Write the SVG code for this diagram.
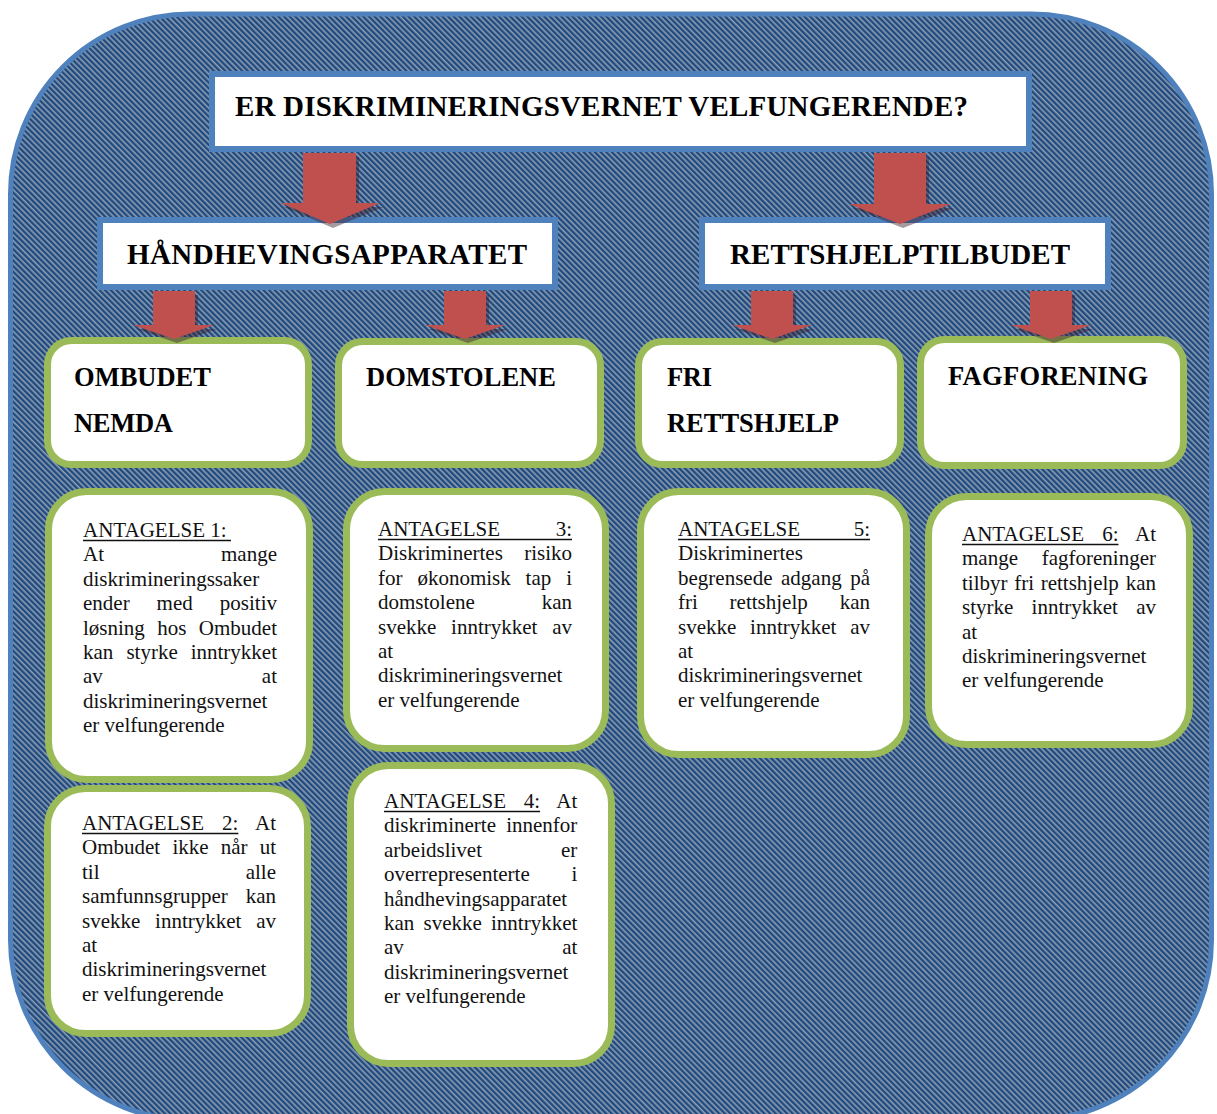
<svg xmlns="http://www.w3.org/2000/svg" width="1217" height="1114" viewBox="0 0 1217 1114">
<defs>
<pattern id="stripes" width="8" height="4" patternUnits="userSpaceOnUse" patternTransform="rotate(45)">
<rect width="8" height="4" fill="#1f4a7e"/>
<rect y="0" width="8" height="1.6" fill="#8e9db3"/>
</pattern>
<style>
.blue{fill:#fff;stroke:#4f81bd;stroke-width:6}
.green{fill:#fff;stroke:#9bbb59;stroke-width:7}
.h{font-family:"Liberation Serif","Times New Roman",serif;font-weight:bold;fill:#000}
.t{font-family:"Liberation Serif","Times New Roman",serif;font-size:21px;fill:#111}
.e{text-anchor:end}
.ul{stroke:#111;stroke-width:1.3}
.arrow{fill:#c0504d}
.shadow{fill:#3a1f2e;opacity:0.45}
</style>
</defs>
<rect x="10.5" y="14" width="1201" height="1106" rx="180" ry="180" fill="url(#stripes)" stroke="#4f81bd" stroke-width="5"/>

<g id="title">
<rect class="blue" x="212" y="74" width="817" height="75"/>
<text class="h" x="235" y="116" font-size="29" textLength="733">ER DISKRIMINERINGSVERNET VELFUNGERENDE?</text>
</g>
<g id="handhevingsapparatet">
<rect class="blue" x="100" y="220" width="455" height="67"/>
<text class="h" x="127" y="264" font-size="29" textLength="400">HÅNDHEVINGSAPPARATET</text>
</g>
<g id="rettshjelptilbudet">
<rect class="blue" x="702" y="220" width="406" height="67"/>
<text class="h" x="730" y="264" font-size="29" textLength="340">RETTSHJELPTILBUDET</text>
</g>

<g id="ombudet">
<rect class="green" x="47.5" y="340.5" width="261" height="124" rx="24"/>
<text class="h" x="74" y="386" font-size="26.5" textLength="137">OMBUDET</text>
<text class="h" x="74" y="432" font-size="26.5" textLength="99">NEMDA</text>
</g>
<g id="domstolene">
<rect class="green" x="338.5" y="341.5" width="262" height="123" rx="24"/>
<text class="h" x="366" y="386" font-size="26.5" textLength="190">DOMSTOLENE</text>
</g>
<g id="frirettshjelp">
<rect class="green" x="638.5" y="341.5" width="262" height="123" rx="24"/>
<text class="h" x="667" y="386" font-size="26.5" textLength="45">FRI</text>
<text class="h" x="667" y="432" font-size="26.5" textLength="172">RETTSHJELP</text>
</g>
<g id="fagforening">
<rect class="green" x="920.5" y="339.5" width="263" height="126" rx="24"/>
<text class="h" x="948" y="385" font-size="26.5" textLength="200">FAGFORENING</text>
</g>

<g id="antagelse1">
<rect class="green" x="48.5" y="491.5" width="261" height="288" rx="38"/>
<text class="t" x="83" y="537">ANTAGELSE 1:</text>
<line class="ul" x1="83" y1="540.5" x2="231" y2="540.5"/>
<text class="t" x="83" y="561.4">At</text><text class="t e" x="277" y="561.4">mange</text>
<text class="t" x="83" y="585.8">diskrimineringssaker</text>
<text class="t" x="83" y="610.2">ender</text><text class="t" x="156.6" y="610.2">med</text><text class="t e" x="277" y="610.2">positiv</text>
<text class="t" x="83" y="634.6">løsning</text><text class="t" x="157.2" y="634.6">hos</text><text class="t e" x="277" y="634.6">Ombudet</text>
<text class="t" x="83" y="659">kan</text><text class="t" x="126.4" y="659">styrke</text><text class="t e" x="277" y="659">inntrykket</text>
<text class="t" x="83" y="683.4">av</text><text class="t e" x="277" y="683.4">at</text>
<text class="t" x="83" y="707.8">diskrimineringsvernet</text>
<text class="t" x="83" y="732.2">er velfungerende</text>
</g>

<g id="antagelse2">
<rect class="green" x="47.5" y="788.5" width="260" height="245" rx="38"/>
<text class="t" x="82" y="830">ANTAGELSE</text><text class="t" x="222.1" y="830">2:</text><text class="t e" x="276" y="830">At</text>
<line class="ul" x1="82" y1="833.5" x2="238.4" y2="833.5"/>
<text class="t" x="82" y="854.4">Ombudet</text><text class="t" x="172.4" y="854.4">ikke</text><text class="t" x="220.7" y="854.4">når</text><text class="t e" x="276" y="854.4">ut</text>
<text class="t" x="82" y="878.8">til</text><text class="t e" x="276" y="878.8">alle</text>
<text class="t" x="82" y="903.2">samfunnsgrupper</text><text class="t e" x="276" y="903.2">kan</text>
<text class="t" x="82" y="927.6">svekke</text><text class="t" x="155.1" y="927.6">inntrykket</text><text class="t e" x="276" y="927.6">av</text>
<text class="t" x="82" y="952">at</text>
<text class="t" x="82" y="976.4">diskrimineringsvernet</text>
<text class="t" x="82" y="1000.8">er velfungerende</text>
</g>

<g id="antagelse3">
<rect class="green" x="346.5" y="491.5" width="259" height="257" rx="38"/>
<text class="t" x="378" y="536">ANTAGELSE</text><text class="t e" x="572" y="536">3:</text>
<line class="ul" x1="378" y1="539.5" x2="572" y2="539.5"/>
<text class="t" x="378" y="560.4">Diskriminertes</text><text class="t e" x="572" y="560.4">risiko</text>
<text class="t" x="378" y="584.8">for</text><text class="t" x="417.4" y="584.8">økonomisk</text><text class="t" x="525.6" y="584.8">tap</text><text class="t e" x="572" y="584.8">i</text>
<text class="t" x="378" y="609.2">domstolene</text><text class="t e" x="572" y="609.2">kan</text>
<text class="t" x="378" y="633.6">svekke</text><text class="t" x="451.1" y="633.6">inntrykket</text><text class="t e" x="572" y="633.6">av</text>
<text class="t" x="378" y="658">at</text>
<text class="t" x="378" y="682.4">diskrimineringsvernet</text>
<text class="t" x="378" y="706.8">er velfungerende</text>
</g>

<g id="antagelse4">
<rect class="green" x="350.5" y="765.5" width="261" height="298" rx="38"/>
<text class="t" x="384" y="808">ANTAGELSE</text><text class="t" x="523.8" y="808">4:</text><text class="t e" x="577.3" y="808">At</text>
<line class="ul" x1="384" y1="811.5" x2="540.1" y2="811.5"/>
<text class="t" x="384" y="832.4">diskriminerte</text><text class="t e" x="577.3" y="832.4">innenfor</text>
<text class="t" x="384" y="856.8">arbeidslivet</text><text class="t e" x="577.3" y="856.8">er</text>
<text class="t" x="384" y="881.2">overrepresenterte</text><text class="t e" x="577.3" y="881.2">i</text>
<text class="t" x="384" y="905.6">håndhevingsapparatet</text>
<text class="t" x="384" y="930">kan</text><text class="t" x="423.5" y="930">svekke</text><text class="t e" x="577.3" y="930">inntrykket</text>
<text class="t" x="384" y="954.4">av</text><text class="t e" x="577.3" y="954.4">at</text>
<text class="t" x="384" y="978.8">diskrimineringsvernet</text>
<text class="t" x="384" y="1003.2">er velfungerende</text>
</g>

<g id="antagelse5">
<rect class="green" x="640.5" y="491.5" width="266" height="263" rx="38"/>
<text class="t" x="678" y="536">ANTAGELSE</text><text class="t e" x="870" y="536">5:</text>
<line class="ul" x1="678" y1="539.5" x2="870" y2="539.5"/>
<text class="t" x="678" y="560.4">Diskriminertes</text>
<text class="t" x="678" y="584.8">begrensede</text><text class="t" x="781" y="584.8">adgang</text><text class="t e" x="870" y="584.8">på</text>
<text class="t" x="678" y="609.2">fri</text><text class="t" x="729.6" y="609.2">rettshjelp</text><text class="t e" x="870" y="609.2">kan</text>
<text class="t" x="678" y="633.6">svekke</text><text class="t" x="750.1" y="633.6">inntrykket</text><text class="t e" x="870" y="633.6">av</text>
<text class="t" x="678" y="658">at</text>
<text class="t" x="678" y="682.4">diskrimineringsvernet</text>
<text class="t" x="678" y="706.8">er velfungerende</text>
</g>

<g id="antagelse6">
<rect class="green" x="928.5" y="496.5" width="261" height="248" rx="38"/>
<text class="t" x="962" y="541">ANTAGELSE</text><text class="t" x="1102.2" y="541">6:</text><text class="t e" x="1156" y="541">At</text>
<line class="ul" x1="962" y1="544.5" x2="1118.5" y2="544.5"/>
<text class="t" x="962" y="565.4">mange</text><text class="t e" x="1156" y="565.4">fagforeninger</text>
<text class="t" x="962" y="589.8">tilbyr</text><text class="t" x="1014.2" y="589.8">fri</text><text class="t" x="1040.7" y="589.8">rettshjelp</text><text class="t e" x="1156" y="589.8">kan</text>
<text class="t" x="962" y="614.2">styrke</text><text class="t" x="1031.6" y="614.2">inntrykket</text><text class="t e" x="1156" y="614.2">av</text>
<text class="t" x="962" y="638.6">at</text>
<text class="t" x="962" y="663">diskrimineringsvernet</text>
<text class="t" x="962" y="687.4">er velfungerende</text>
</g>

<g id="connectors">
<g transform="translate(3,4)">
<polygon class="shadow" points="303,153 356,153 356,203 380,203 330,224 281,203 303,203"/>
<polygon class="shadow" points="874,153 926,153 926,204 951,204 900,224 849,204 874,204"/>
<polygon class="shadow" points="153,291 195,291 195,325 214,325 174,339 133,325 153,325"/>
<polygon class="shadow" points="444,291 486,291 486,325 505,325 465,339 425,325 444,325"/>
<polygon class="shadow" points="751,291 793,291 793,325 812,325 772,339 732,325 751,325"/>
<polygon class="shadow" points="1030,291 1072,291 1072,325 1091,325 1051,339 1011,325 1030,325"/>
</g>
<polygon class="arrow" points="303,153 356,153 356,203 380,203 330,224 281,203 303,203"/>
<polygon class="arrow" points="874,153 926,153 926,204 951,204 900,224 849,204 874,204"/>
<polygon class="arrow" points="153,291 195,291 195,325 214,325 174,339 133,325 153,325"/>
<polygon class="arrow" points="444,291 486,291 486,325 505,325 465,339 425,325 444,325"/>
<polygon class="arrow" points="751,291 793,291 793,325 812,325 772,339 732,325 751,325"/>
<polygon class="arrow" points="1030,291 1072,291 1072,325 1091,325 1051,339 1011,325 1030,325"/>
</g>
</svg>
